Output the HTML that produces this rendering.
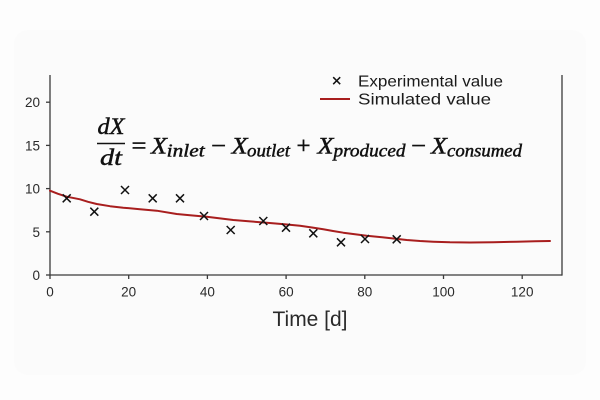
<!DOCTYPE html>
<html>
<head>
<meta charset="utf-8">
<style>
  html,body{margin:0;padding:0;background:#fdfdfd;}
  svg{display:block;}
</style>
</head>
<body>
<svg width="600" height="400" viewBox="0 0 600 400" xmlns="http://www.w3.org/2000/svg">
  <rect x="0" y="0" width="600" height="400" fill="#fdfdfd"/>
  <rect x="14" y="30" width="572" height="345" rx="14" fill="#fbfbfb"/>

  <!-- axes spines -->
  <g stroke="#3a3a3a" stroke-width="1.3" fill="none">
    <line x1="50" y1="75" x2="50" y2="275.6"/>
    <line x1="49.4" y1="275" x2="562" y2="275"/>
    <line x1="562" y1="75" x2="562" y2="275.6"/>
    <!-- y ticks -->
    <line x1="46" y1="275" x2="50" y2="275"/>
    <line x1="46" y1="231.8" x2="50" y2="231.8"/>
    <line x1="46" y1="188.6" x2="50" y2="188.6"/>
    <line x1="46" y1="145.4" x2="50" y2="145.4"/>
    <line x1="46" y1="102.2" x2="50" y2="102.2"/>
    <!-- x ticks -->
    <line x1="50" y1="275" x2="50" y2="279"/>
    <line x1="128.7" y1="275" x2="128.7" y2="279"/>
    <line x1="207.4" y1="275" x2="207.4" y2="279"/>
    <line x1="286.1" y1="275" x2="286.1" y2="279"/>
    <line x1="364.8" y1="275" x2="364.8" y2="279"/>
    <line x1="443.5" y1="275" x2="443.5" y2="279"/>
    <line x1="522.2" y1="275" x2="522.2" y2="279"/>
  </g>

  <!-- y tick labels -->
  <g font-family="Liberation Sans, DejaVu Sans, sans-serif" font-size="13.5" fill="#2a2a2a" text-anchor="end">
    <text x="40" y="280">0</text>
    <text x="40" y="236.8">5</text>
    <text x="40" y="193.6">10</text>
    <text x="40" y="150.4">15</text>
    <text x="40" y="107.2">20</text>
  </g>
  <!-- x tick labels -->
  <g font-family="Liberation Sans, DejaVu Sans, sans-serif" font-size="13.5" fill="#2a2a2a" text-anchor="middle">
    <text x="50" y="296.5">0</text>
    <text x="128.7" y="296.5">20</text>
    <text x="207.4" y="296.5">40</text>
    <text x="286.1" y="296.5">60</text>
    <text x="364.8" y="296.5">80</text>
    <text x="443.5" y="296.5">100</text>
    <text x="522.2" y="296.5">120</text>
  </g>

  <!-- x axis title -->
  <text x="310" y="326" font-family="Liberation Sans, DejaVu Sans, sans-serif" font-size="21" fill="#2a2a2a" text-anchor="middle" textLength="75" lengthAdjust="spacingAndGlyphs">Time [d]</text>

  <!-- simulated curve -->
  <polyline fill="none" stroke="#a81e1e" stroke-width="2" stroke-linejoin="round" stroke-linecap="round"
    points="50,190.7 58,193.8 66.7,196.7 80,199.3 88,201.8 96.7,204 110,206.2 123.3,207.7 140,209.2 156.7,210.7 176.7,214 190,215.3 206.7,216.7 220,218.4 233.3,220 250,221.4 266.7,222.7 283,224.1 300,225.7 312,227.5 323.3,229.3 333,231 343.3,232.7 355,234.2 366.7,235.7 386.7,237.7 406.7,240 420,241 433.3,241.7 450,242.3 470,242.5 493.3,242.3 516.7,241.7 535,241.2 550,241"/>

  <!-- experimental markers -->
  <g stroke="#111" stroke-width="1.5" stroke-linecap="butt">
    <path d="M62.7,194.3 l8,8 M70.7,194.3 l-8,8"/>
    <path d="M90.3,207.7 l8,8 M98.3,207.7 l-8,8"/>
    <path d="M121,186 l8,8 M129,186 l-8,8"/>
    <path d="M148.7,194.3 l8,8 M156.7,194.3 l-8,8"/>
    <path d="M176,194.3 l8,8 M184,194.3 l-8,8"/>
    <path d="M200,212 l8,8 M208,212 l-8,8"/>
    <path d="M226.7,226 l8,8 M234.7,226 l-8,8"/>
    <path d="M259.3,217 l8,8 M267.3,217 l-8,8"/>
    <path d="M282,223.7 l8,8 M290,223.7 l-8,8"/>
    <path d="M309.3,229.3 l8,8 M317.3,229.3 l-8,8"/>
    <path d="M337,238.3 l8,8 M345,238.3 l-8,8"/>
    <path d="M361,235 l8,8 M369,235 l-8,8"/>
    <path d="M392.7,235.3 l8,8 M400.7,235.3 l-8,8"/>
  </g>

  <!-- legend -->
  <path d="M333.2,77.2 l7,7 M340.2,77.2 l-7,7" stroke="#111" stroke-width="1.5"/>
  <line x1="320" y1="99" x2="350" y2="99" stroke="#a81e1e" stroke-width="2"/>
  <g font-family="Liberation Sans, DejaVu Sans, sans-serif" font-size="16" fill="#1a1a1a">
    <text x="358" y="86.5" textLength="145" lengthAdjust="spacingAndGlyphs">Experimental value</text>
    <text x="358" y="104.5" textLength="133" lengthAdjust="spacingAndGlyphs">Simulated value</text>
  </g>

  <!-- equation -->
  <g font-family="Liberation Serif, DejaVu Serif, serif" fill="#111" stroke="#111" stroke-width="0.45">
    <text x="111" y="134" font-size="23" font-style="italic" text-anchor="middle" textLength="27" lengthAdjust="spacingAndGlyphs">dX</text>
    <text x="111" y="165" font-size="23" font-style="italic" text-anchor="middle" textLength="22" lengthAdjust="spacingAndGlyphs">dt</text>
    <text x="131.5" y="153.3" font-size="24" textLength="15" lengthAdjust="spacingAndGlyphs">=</text>
    <text x="151" y="153.3" font-size="23" font-style="italic" textLength="16" lengthAdjust="spacingAndGlyphs">X</text>
    <text x="166.7" y="156.5" font-size="17.5" font-style="italic" textLength="38" lengthAdjust="spacingAndGlyphs">inlet</text>
    <text x="211" y="153.3" font-size="24" textLength="15" lengthAdjust="spacingAndGlyphs">−</text>
    <text x="231.7" y="153.3" font-size="23" font-style="italic" textLength="16" lengthAdjust="spacingAndGlyphs">X</text>
    <text x="247" y="156.5" font-size="17.5" font-style="italic" textLength="43" lengthAdjust="spacingAndGlyphs">outlet</text>
    <text x="296.5" y="153.3" font-size="24" textLength="14" lengthAdjust="spacingAndGlyphs">+</text>
    <text x="317.5" y="153.3" font-size="23" font-style="italic" textLength="16" lengthAdjust="spacingAndGlyphs">X</text>
    <text x="333.5" y="156.5" font-size="17.5" font-style="italic" textLength="72" lengthAdjust="spacingAndGlyphs">produced</text>
    <text x="411" y="153.3" font-size="24" textLength="15" lengthAdjust="spacingAndGlyphs">−</text>
    <text x="431" y="153.3" font-size="23" font-style="italic" textLength="16" lengthAdjust="spacingAndGlyphs">X</text>
    <text x="447" y="156.5" font-size="17.5" font-style="italic" textLength="75" lengthAdjust="spacingAndGlyphs">consumed</text>
  </g>
  <line x1="97" y1="143.5" x2="125" y2="143.5" stroke="#111" stroke-width="1.6"/>
</svg>
</body>
</html>
